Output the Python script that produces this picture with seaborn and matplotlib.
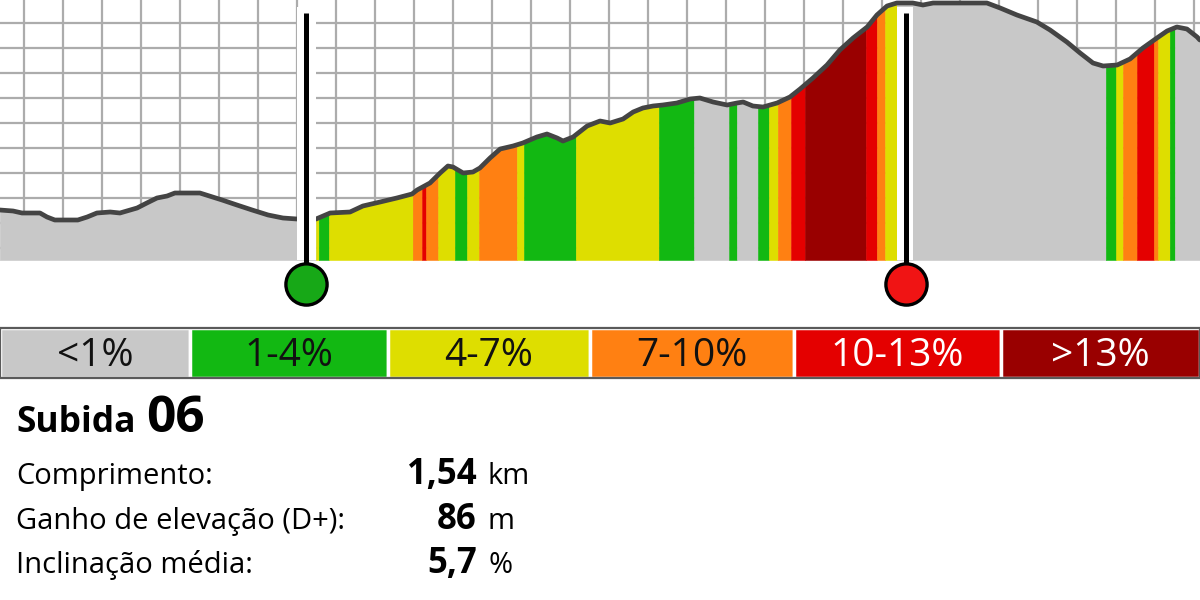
import matplotlib
matplotlib.use("Agg")
import matplotlib.pyplot as plt
import numpy as np
import seaborn as sns

# elevation profile (distance in km, elevation in m)
dist_km = [0.038, 0.072, 0.095, 0.141, 0.159, 0.179, 0.238, 0.262, 0.287, 0.321,
           0.346, 0.390, 0.415, 0.441, 0.467, 0.487, 0.551, 0.608, 0.646, 0.685,
           0.726, 0.764, 0.800, 0.849, 0.885, 0.936, 0.969, 1.013, 1.056, 1.095,
           1.108, 1.141, 1.167, 1.187, 1.200, 1.226, 1.251, 1.269, 1.295, 1.321,
           1.354, 1.379, 1.415, 1.441, 1.467, 1.482, 1.508, 1.544, 1.577, 1.603,
           1.636, 1.662, 1.687, 1.713, 1.738, 1.774, 1.808, 1.833, 1.867, 1.903,
           1.928, 1.944, 1.969, 1.995, 2.031, 2.064, 2.090, 2.123, 2.159, 2.192,
           2.226, 2.262, 2.287, 2.313, 2.338, 2.379, 2.405, 2.431, 2.569, 2.603,
           2.646, 2.697, 2.731, 2.774, 2.808, 2.841, 2.867, 2.903, 2.936, 2.969,
           3.005, 3.031, 3.056, 3.082, 3.108, 3.115]
elev_m = [715.1, 714.7, 713.9, 713.9, 712.3, 711.1, 711.1, 712.3, 713.9, 714.3,
          713.9, 715.9, 717.9, 719.9, 720.7, 721.9, 721.9, 719.1, 717.1, 715.1,
          713.1, 711.9, 711.5, 711.5, 713.9, 714.3, 716.7, 718.3, 719.9, 721.5,
          723.1, 725.9, 729.9, 732.7, 732.3, 729.9, 730.3, 731.9, 735.9, 739.5,
          740.7, 741.9, 744.3, 745.5, 743.9, 742.7, 744.3, 748.7, 750.7, 749.9,
          751.5, 754.3, 755.9, 756.7, 757.1, 757.9, 759.5, 759.9, 758.3, 757.1,
          757.9, 758.3, 756.7, 756.3, 757.9, 760.3, 763.5, 767.9, 773.1, 779.1,
          783.9, 788.3, 793.1, 796.7, 797.9, 797.9, 797.1, 797.9, 797.9, 795.9,
          793.1, 790.3, 787.1, 782.3, 777.9, 773.9, 772.7, 773.1, 775.5, 779.9,
          783.9, 786.7, 788.3, 787.5, 784.3, 783.1]

# gradient class of each stretch between consecutive bounds
seg_bounds = [0.038, 0.849, 0.856, 0.882, 1.097, 1.121, 1.131, 1.162, 1.205, 1.236,
              1.267, 1.364, 1.382, 1.515, 1.728, 1.818, 1.908, 1.928, 1.982, 2.010,
              2.033, 2.067, 2.103, 2.259, 2.287, 2.308, 2.338, 2.874, 2.900, 2.918,
              2.954, 2.997, 3.008, 3.038, 3.051, 3.115]
seg_class = [0, 2, 1, 2, 3, 4, 3, 2, 1, 2,
             3, 2, 1, 2, 1, 0, 1, 0, 1, 2,
             3, 4, 5, 4, 3, 2, 0, 1, 2, 3,
             4, 3, 2, 1, 0]

climb_start_km = 0.823
climb_end_km = 2.362
gap_start = (0.800, 0.849)
gap_end = (2.338, 2.379)

class_labels = ["<1%", "1-4%", "4-7%", "7-10%", "10-13%", ">13%"]
class_colors = ["#c8c8c8", "#12b812", "#dede00", "#ff8012", "#e40000", "#990000"]
label_colors = ["#111111", "#111111", "#111111", "#111111", "white", "white"]

climb_name = "Subida"
climb_number = "06"
stat_labels = ["Comprimento:", "Ganho de elevação (D+):", "Inclinação média:"]
stat_values = ["1,54", "86", "5,7"]
stat_units = ["km", "m", "%"]

sns.set_theme(style="white")
plt.rcParams["font.family"] = ["Open Sans", "DejaVu Sans"]

W, H = 1200, 600
fig = plt.figure(figsize=(12, 6), dpi=100)
fig.patch.set_facecolor("white")

# profile axes: top 260 px of the figure
ax = fig.add_axes([0, 1 - 260 / H, 1, 260 / H])
x_lo, x_hi = 0.0385, 0.0385 + 1200 / 390
y_lo, y_hi = 695.1, 799.1
ax.set_xlim(x_lo, x_hi)
ax.set_ylim(y_lo, y_hi)
ax.set_xticks(np.arange(0.1, 3.15, 0.1))
ax.set_yticks(np.arange(700, 795, 10))
ax.grid(True, color="#acacac", linewidth=1.6)
ax.set_axisbelow(True)
ax.tick_params(left=False, bottom=False, labelleft=False, labelbottom=False)
for s in ax.spines.values():
    s.set_visible(False)
ax.set_facecolor("white")

# coloured fill by gradient class
for a, b, c in zip(seg_bounds[:-1], seg_bounds[1:], seg_class):
    xs = [a] + [d for d in dist_km if a < d < b] + [b]
    ys = np.interp(xs, dist_km, elev_m)
    ax.fill_between(xs, ys, y_lo, color=class_colors[c], linewidth=0.4,
                    edgecolor=class_colors[c], zorder=2)

# profile outline
sns.lineplot(x=dist_km, y=elev_m, ax=ax, color="#444444", linewidth=3.4,
             estimator=None, sort=False, zorder=3)

# white strips and poles at start/end of the climb
strip_top = 1 - 7 / 260
for g in (gap_start, gap_end):
    ax.axvspan(g[0], g[1], ymin=0, ymax=strip_top, color="white", lw=0, zorder=4)

pole_top = y_hi - 13 / 2.5
circle_y = y_hi - 284 / 2.5
for xk, col in ((climb_start_km, "#17a817"), (climb_end_km, "#f01414")):
    ax.plot([xk, xk], [pole_top, circle_y], color="black", linewidth=3.6,
            solid_capstyle="butt", clip_on=False, zorder=5)
    ax.scatter([xk], [circle_y], s=880, color=col, edgecolor="black",
               linewidth=2.4, clip_on=False, zorder=6)

# legend bar
legend_edges = [0, 190, 388, 590, 794, 1001, 1200]
lax = fig.add_axes([0, 1 - 378 / H, 1, 50 / H])
lax.set_xlim(0, W)
lax.set_ylim(0, 1)
lax.axis("off")
for i, lab in enumerate(class_labels):
    x0, x1 = legend_edges[i], legend_edges[i + 1]
    lax.barh(0.5, x1 - x0, left=x0, height=1.0, color=class_colors[i],
             edgecolor="white", linewidth=2.5)
    lax.text((x0 + x1) / 2, 0.45, lab, ha="center", va="center",
             fontsize=28, color=label_colors[i])
lax.add_patch(plt.Rectangle((0, 0), W, 1, fill=False, edgecolor="#5a5a5a",
                            linewidth=1.6, clip_on=False))

# title and stats
def px(x, y):
    return x / W, 1 - y / H

fig.text(*px(16, 432), climb_name, fontsize=25.5, fontweight="bold",
         color="black", va="baseline")
fig.text(*px(146, 432), climb_number, fontsize=37, fontweight="bold",
         color="black", va="baseline")

row_y = [484, 529, 573]
for yy, lab, val, unit in zip(row_y, stat_labels, stat_values, stat_units):
    fig.text(*px(16, yy), lab, fontsize=21, color="black", va="baseline")
    fig.text(*px(477, yy), val, fontsize=25, fontweight="bold", color="black",
             ha="right", va="baseline")
    fig.text(*px(488, yy), unit, fontsize=21, color="black", va="baseline")

fig.savefig("out.png", dpi=100)
